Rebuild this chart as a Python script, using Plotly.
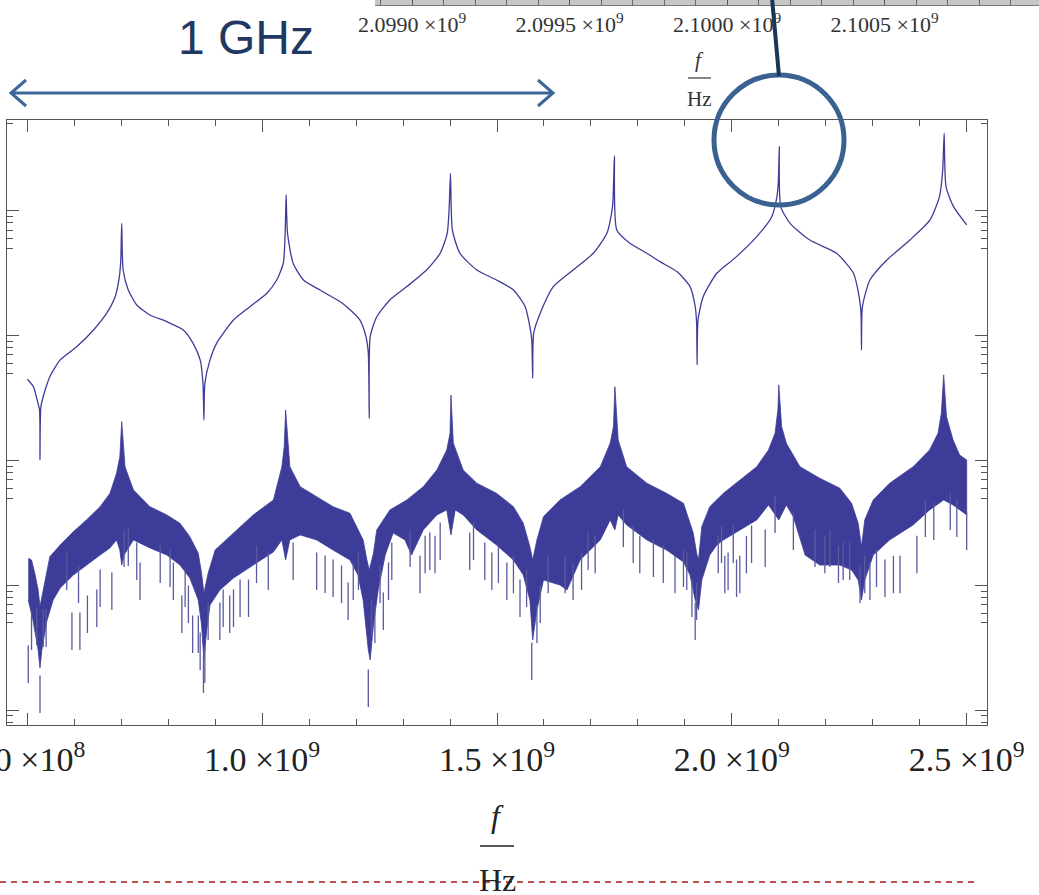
import plotly.graph_objects as go

W, H = 1039, 895

# ---------------- data (frequency in GHz, level in log10 units) ----------------
upper_f_ghz = [0.500, 0.513, 0.521, 0.526, 0.527, 0.529, 0.538, 0.548, 0.570, 0.605,
               0.641, 0.669, 0.687, 0.696, 0.699, 0.701, 0.704, 0.715, 0.733, 0.761,
               0.797, 0.832, 0.853, 0.868, 0.874, 0.876, 0.878, 0.889, 0.903, 0.939,
               0.974, 1.010, 1.031, 1.045, 1.049, 1.051, 1.054, 1.066, 1.088, 1.123,
               1.166, 1.180, 1.208, 1.221, 1.226, 1.228, 1.230, 1.244, 1.272, 1.308,
               1.350, 1.379, 1.394, 1.398, 1.401, 1.405, 1.421, 1.457, 1.499, 1.535,
               1.560, 1.570, 1.574, 1.576, 1.578, 1.592, 1.620, 1.662, 1.705, 1.734,
               1.746, 1.750, 1.755, 1.783, 1.819, 1.847, 1.883, 1.911, 1.922, 1.925,
               1.926, 1.928, 1.939, 1.968, 2.010, 2.053, 2.085, 2.096, 2.099, 2.101,
               2.104, 2.124, 2.166, 2.223, 2.259, 2.271, 2.275, 2.276, 2.278, 2.294,
               2.330, 2.379, 2.422, 2.442, 2.449, 2.452, 2.456, 2.472, 2.500]
upper_log = [-2.350, -2.409, -2.516, -2.596, -2.996, -2.569, -2.436, -2.329, -2.195, -2.089,
             -1.955, -1.821, -1.689, -1.528, -1.395, -1.101, -1.475, -1.635, -1.755, -1.835,
             -1.889, -1.955, -2.062, -2.195, -2.382, -2.676, -2.382, -2.195, -2.062, -1.875,
             -1.769, -1.661, -1.555, -1.421, -1.181, -0.874, -1.181, -1.421, -1.555, -1.635,
             -1.729, -1.769, -1.875, -2.009, -2.142, -2.662, -2.009, -1.849, -1.715, -1.608,
             -1.475, -1.341, -1.181, -0.994, -0.701, -1.155, -1.341, -1.475, -1.555, -1.635,
             -1.769, -1.929, -2.035, -2.342, -1.982, -1.821, -1.608, -1.475, -1.341, -1.181,
             -0.968, -0.562, -1.155, -1.261, -1.341, -1.408, -1.488, -1.608, -1.769, -1.902,
             -2.235, -1.875, -1.689, -1.501, -1.368, -1.208, -1.048, -0.888, -0.768, -0.488,
             -0.968, -1.101, -1.235, -1.341, -1.501, -1.689, -1.821, -2.115, -1.769, -1.555,
             -1.395, -1.235, -1.074, -0.888, -0.674, -0.380, -0.808, -0.968, -1.114]

band_top_f_ghz = [0.502, 0.509, 0.516, 0.523, 0.527, 0.534, 0.548, 0.570, 0.598, 0.626,
                  0.655, 0.676, 0.690, 0.697, 0.701, 0.708, 0.726, 0.761, 0.797, 0.825,
                  0.846, 0.864, 0.871, 0.876, 0.885, 0.900, 0.939, 0.981, 1.024, 1.042,
                  1.047, 1.050, 1.059, 1.081, 1.116, 1.151, 1.187, 1.194, 1.215, 1.223,
                  1.228, 1.237, 1.244, 1.272, 1.308, 1.343, 1.372, 1.393, 1.400, 1.402,
                  1.407, 1.428, 1.457, 1.499, 1.535, 1.556, 1.570, 1.576, 1.585, 1.599,
                  1.634, 1.677, 1.720, 1.741, 1.748, 1.751, 1.758, 1.776, 1.819, 1.861,
                  1.897, 1.904, 1.918, 1.925, 1.929, 1.936, 1.953, 1.982, 2.017, 2.053,
                  2.078, 2.092, 2.098, 2.100, 2.106, 2.116, 2.145, 2.187, 2.230, 2.255,
                  2.269, 2.276, 2.283, 2.301, 2.336, 2.386, 2.421, 2.439, 2.446, 2.451,
                  2.457, 2.471, 2.485, 2.500]
band_top_log = [-3.783, -3.797, -3.903, -4.037, -4.170, -4.037, -3.770, -3.677, -3.570, -3.476,
                -3.370, -3.263, -3.102, -2.970, -2.689, -3.050, -3.236, -3.370, -3.436, -3.503,
                -3.610, -3.743, -3.903, -4.063, -3.903, -3.716, -3.583, -3.436, -3.316, -3.050,
                -2.889, -2.596, -3.050, -3.210, -3.290, -3.370, -3.423, -3.476, -3.636, -3.797,
                -3.877, -3.743, -3.556, -3.396, -3.316, -3.210, -3.076, -2.916, -2.782, -2.476,
                -2.862, -3.076, -3.182, -3.263, -3.370, -3.503, -3.690, -3.797, -3.636, -3.450,
                -3.316, -3.210, -3.050, -2.862, -2.729, -2.409, -2.836, -3.050, -3.182, -3.263,
                -3.343, -3.423, -3.583, -3.743, -3.797, -3.530, -3.370, -3.263, -3.156, -3.050,
                -2.916, -2.782, -2.596, -2.395, -2.729, -2.862, -3.050, -3.142, -3.222, -3.343,
                -3.503, -3.690, -3.476, -3.316, -3.182, -3.050, -2.916, -2.782, -2.622, -2.315,
                -2.649, -2.836, -2.956, -2.996]

band_bot_f_ghz = [0.502, 0.512, 0.523, 0.527, 0.531, 0.541, 0.555, 0.570, 0.598, 0.626,
                  0.655, 0.676, 0.690, 0.697, 0.701, 0.706, 0.726, 0.761, 0.797, 0.825,
                  0.846, 0.864, 0.871, 0.876, 0.882, 0.889, 0.910, 0.939, 0.981, 1.024,
                  1.042, 1.050, 1.059, 1.081, 1.116, 1.151, 1.187, 1.204, 1.215, 1.226,
                  1.230, 1.237, 1.247, 1.262, 1.279, 1.304, 1.318, 1.343, 1.372, 1.393,
                  1.402, 1.411, 1.428, 1.457, 1.499, 1.535, 1.556, 1.570, 1.576, 1.585,
                  1.599, 1.634, 1.649, 1.677, 1.720, 1.741, 1.751, 1.758, 1.776, 1.819,
                  1.861, 1.897, 1.911, 1.922, 1.929, 1.936, 1.953, 1.968, 1.982, 2.017,
                  2.053, 2.078, 2.100, 2.116, 2.131, 2.156, 2.187, 2.230, 2.255, 2.269,
                  2.276, 2.283, 2.301, 2.336, 2.386, 2.421, 2.451, 2.471, 2.500]
band_bot_log = [-4.117, -4.277, -4.517, -4.661, -4.517, -4.293, -4.117, -4.021, -3.917, -3.837,
                -3.757, -3.700, -3.636, -3.717, -3.837, -3.757, -3.636, -3.700, -3.757, -3.837,
                -3.941, -4.117, -4.317, -4.597, -4.357, -4.157, -4.037, -3.941, -3.837, -3.732,
                -3.636, -3.797, -3.636, -3.596, -3.636, -3.717, -3.797, -3.917, -4.117, -4.517,
                -4.597, -4.317, -4.037, -3.757, -3.580, -3.636, -3.757, -3.556, -3.436, -3.396,
                -3.596, -3.396, -3.436, -3.556, -3.677, -3.797, -3.917, -4.117, -4.437, -4.197,
                -3.957, -3.997, -4.037, -3.797, -3.636, -3.476, -3.556, -3.436, -3.516, -3.636,
                -3.717, -3.813, -3.917, -4.117, -4.197, -3.957, -3.757, -3.677, -3.636, -3.556,
                -3.476, -3.356, -3.476, -3.356, -3.452, -3.757, -3.837, -3.837, -3.877, -3.957,
                -4.117, -3.957, -3.757, -3.636, -3.516, -3.396, -3.316, -3.356, -3.436]

spike_f_ghz = [0.502, 0.509, 0.520, 0.527, 0.534, 0.540, 0.584, 0.595, 0.609, 0.612,
               0.628, 0.648, 0.655, 0.680, 0.706, 0.715, 0.733, 0.740, 0.783, 0.804,
               0.811, 0.829, 0.836, 0.843, 0.852, 0.864, 0.868, 0.875, 0.878, 0.885,
               0.910, 0.917, 0.931, 0.939, 0.953, 0.971, 0.988, 1.013, 1.066, 1.116,
               1.134, 1.151, 1.169, 1.183, 1.194, 1.205, 1.226, 1.233, 1.240, 1.251,
               1.258, 1.269, 1.276, 1.315, 1.336, 1.347, 1.357, 1.368, 1.379, 1.442,
               1.450, 1.474, 1.489, 1.503, 1.521, 1.535, 1.549, 1.563, 1.574, 1.585,
               1.592, 1.609, 1.645, 1.662, 1.680, 1.694, 1.709, 1.769, 1.790, 1.804,
               1.833, 1.854, 1.879, 1.897, 1.904, 1.915, 1.922, 1.925, 1.971, 1.978,
               1.985, 1.992, 2.003, 2.010, 2.017, 2.031, 2.042, 2.071, 2.092, 2.131,
               2.177, 2.198, 2.209, 2.227, 2.237, 2.251, 2.273, 2.283, 2.294, 2.308,
               2.326, 2.344, 2.358, 2.394, 2.412, 2.430, 2.465, 2.479, 2.500]
spike_tip_log = [-4.781, -4.517, -4.477, -5.021, -4.493, -4.493, -4.037, -4.517, -4.141, -4.517,
                 -4.381, -4.333, -4.173, -4.197, -3.853, -3.845, -3.957, -4.117, -3.981, -4.013,
                 -4.117, -4.381, -4.173, -4.301, -4.541, -4.541, -4.677, -4.861, -4.781, -4.437,
                 -4.437, -4.333, -4.381, -4.333, -4.253, -4.253, -3.981, -4.037, -3.957, -4.037,
                 -4.061, -4.093, -4.141, -4.277, -4.117, -4.037, -4.973, -4.413, -4.461, -4.141,
                 -4.357, -4.117, -3.957, -3.853, -4.063, -3.903, -3.877, -3.903, -3.797, -3.877,
                 -3.797, -3.957, -4.037, -3.981, -4.117, -4.063, -4.253, -4.173, -4.757, -4.461,
                 -4.301, -4.063, -4.063, -4.117, -4.037, -3.877, -3.903, -3.693, -3.821, -3.903,
                 -3.933, -3.981, -4.063, -4.013, -4.037, -4.253, -4.437, -4.277, -3.903, -3.821,
                 -4.063, -4.037, -3.821, -4.093, -4.063, -3.903, -3.821, -3.853, -3.580, -3.717,
                 -3.853, -3.903, -3.853, -3.981, -3.957, -3.957, -4.141, -4.063, -4.117, -4.013,
                 -4.093, -4.063, -4.063, -3.903, -3.613, -3.636, -3.556, -3.613, -3.717]

main_tick_hz = [0.5e9, 1.0e9, 1.5e9, 2.0e9, 2.5e9]
main_tick_text = ["5.0 ×10<sup>8</sup>", "1.0 ×10<sup>9</sup>", "1.5 ×10<sup>9</sup>",
                  "2.0 ×10<sup>9</sup>", "2.5 ×10<sup>9</sup>"]
inset_tick_hz = [2.0990e9, 2.0995e9, 2.1000e9, 2.1005e9]
inset_tick_text = ["2.0990 ×10<sup>9</sup>", "2.0995 ×10<sup>9</sup>",
                   "2.1000 ×10<sup>9</sup>", "2.1005 ×10<sup>9</sup>"]
y_major = [1e-5, 1e-4, 1e-3, 1e-2, 1e-1]

GHZ = 1e9
LINE_C = "#3d3d99"

def hz(lst):
    return [v * GHZ for v in lst]

def lin(lst):
    return [10 ** v for v in lst]

fig = go.Figure()

# dense band (filled envelope)
band_x = hz(band_top_f_ghz) + hz(band_bot_f_ghz)[::-1]
band_y = lin(band_top_log) + lin(band_bot_log)[::-1]
fig.add_trace(go.Scatter(x=band_x, y=band_y, mode="lines", fill="toself",
                         fillcolor=LINE_C, line=dict(color=LINE_C, width=0.8),
                         hoverinfo="skip", showlegend=False))

# downward spikes of the dense band
sx, sy = [], []
for f, t in zip(spike_f_ghz, spike_tip_log):
    sx += [f * GHZ, f * GHZ, None]
    sy += [10 ** t, 10 ** (t + 0.3), None]
fig.add_trace(go.Scatter(x=sx, y=sy, mode="lines",
                         line=dict(color="#5a5a9e", width=1.3),
                         hoverinfo="skip", showlegend=False))

# smooth upper response
fig.add_trace(go.Scatter(x=hz(upper_f_ghz), y=lin(upper_log), mode="lines",
                         line=dict(color=LINE_C, width=1.3, shape="spline", smoothing=0.6),
                         hoverinfo="skip", showlegend=False))

# invisible trace to carry the inset axis
fig.add_trace(go.Scatter(x=[inset_tick_hz[0]], y=[0.5], xaxis="x2", yaxis="y2",
                         mode="markers", marker=dict(opacity=0),
                         hoverinfo="skip", showlegend=False))

serif = "Liberation Serif, Times New Roman, serif"
frame_c = "#555555"

minor_y = [k * 10.0 ** n for n in range(-6, 0) for k in (5, 6, 7, 8, 9)]

fig.update_layout(
    width=W, height=H,
    margin=dict(l=0, r=0, t=0, b=0, pad=0, autoexpand=False),
    paper_bgcolor="white", plot_bgcolor="white",
    showlegend=False,
    xaxis=dict(
        domain=[7.3 / W, 986.7 / W], anchor="y",
        range=[0.4574e9, 2.5426e9], automargin=False,
        tickmode="array", tickvals=main_tick_hz, ticktext=main_tick_text,
        ticks="inside", ticklen=12, tickwidth=1, tickcolor=frame_c,
        minor=dict(tickmode="linear", tick0=0.5e9, dtick=0.1e9, ticks="inside",
                   ticklen=6, tickwidth=1, tickcolor=frame_c, showgrid=False),
        showline=True, linecolor=frame_c, linewidth=1, mirror="ticks",
        showgrid=False, zeroline=False,
        tickfont=dict(family=serif, size=34, color="#222222"),
        ticklabelstandoff=4, ticklabeloverflow="allow",
    ),
    yaxis=dict(
        domain=[170 / H, 775 / H], anchor="x", automargin=False,
        type="log", range=[-5.118, -0.274],
        tickmode="array", tickvals=y_major, showticklabels=False,
        ticks="inside", ticklen=12, tickwidth=1, tickcolor=frame_c,
        minor=dict(tickmode="array", tickvals=minor_y, ticks="inside",
                   ticklen=6, tickwidth=1, tickcolor=frame_c, showgrid=False),
        showline=True, linecolor=frame_c, linewidth=1, mirror="ticks",
        showgrid=False, zeroline=False,
    ),
    xaxis2=dict(
        domain=[375 / W, 1.0], anchor="y2", automargin=False,
        range=[2.098882e9, 2.100990e9],
        tickmode="array", tickvals=inset_tick_hz, ticktext=inset_tick_text,
        ticks="inside", ticklen=5, tickwidth=1, tickcolor="#555555",
        minor=dict(tickmode="linear", tick0=2.0990e9, dtick=1e5, ticks="inside",
                   ticklen=5, tickwidth=1, tickcolor="#666666", showgrid=False),
        showline=True, linecolor="#777777", linewidth=1,
        showgrid=False, zeroline=False,
        tickfont=dict(family=serif, size=22, color="#333333"),
        ticklabelstandoff=0, ticklabeloverflow="allow",
    ),
    yaxis2=dict(domain=[1 - 5 / H, 1.0], anchor="x2", range=[0, 1], visible=False,
                automargin=False),
)

def px(x):
    return x / W

def py(y):
    return 1 - y / H

shapes = []
# inset frame strip
shapes.append(dict(type="rect", xref="x2 domain", yref="y2 domain", x0=0, x1=1, y0=0, y1=1,
                   fillcolor="#c6c6c6", line=dict(width=0), layer="below"))
# double-headed arrow
arrow_c = "#3b6897"
shapes.append(dict(type="line", xref="paper", yref="paper", x0=px(11), x1=px(553), y0=py(93), y1=py(93),
                   line=dict(color=arrow_c, width=3)))
shapes.append(dict(type="path", xref="paper", yref="paper",
                   path=f"M {px(26)},{py(80)} L {px(11)},{py(93)} L {px(26)},{py(106)}",
                   line=dict(color=arrow_c, width=3)))
shapes.append(dict(type="path", xref="paper", yref="paper",
                   path=f"M {px(538)},{py(80)} L {px(553)},{py(93)} L {px(538)},{py(106)}",
                   line=dict(color=arrow_c, width=3)))
# callout circle and connector
shapes.append(dict(type="circle", xref="paper", yref="paper",
                   x0=px(714), x1=px(844), y0=py(205), y1=py(75),
                   line=dict(color="#3a6290", width=5)))
shapes.append(dict(type="line", xref="paper", yref="paper", x0=px(772), x1=px(779), y0=py(-2), y1=py(76),
                   line=dict(color="#1c3557", width=4)))
# fraction bars of axis labels
shapes.append(dict(type="line", xref="paper", yref="paper", x0=px(480), x1=px(514), y0=py(846), y1=py(846),
                   line=dict(color="#222222", width=1.5)))
shapes.append(dict(type="line", xref="paper", yref="paper", x0=px(688), x1=px(711), y0=py(78), y1=py(78),
                   line=dict(color="#333333", width=1.2)))
# red dashed separator
shapes.append(dict(type="line", xref="paper", yref="paper", x0=px(0), x1=px(977), y0=py(882), y1=py(882),
                   line=dict(color="#c0504d", width=2, dash="6px,5px")))
fig.update_layout(shapes=shapes)

ann = []
ann.append(dict(text="1 GHz", xref="paper", yref="paper", x=px(246), y=py(37),
                showarrow=False, xanchor="center", yanchor="middle",
                font=dict(family="Liberation Sans, Arial, sans-serif", size=48, color="#1f3864")))
ann.append(dict(text="<i>f</i>", xref="paper", yref="paper", x=px(497), y=py(816),
                showarrow=False, xanchor="center", yanchor="middle",
                font=dict(family=serif, size=32, color="#222222")))
ann.append(dict(text="Hz", xref="paper", yref="paper", x=px(497), y=py(880),
                showarrow=False, xanchor="center", yanchor="middle",
                font=dict(family=serif, size=32, color="#222222")))
ann.append(dict(text="<i>f</i>", xref="paper", yref="paper", x=px(699), y=py(60),
                showarrow=False, xanchor="center", yanchor="middle",
                font=dict(family=serif, size=21, color="#333333")))
ann.append(dict(text="Hz", xref="paper", yref="paper", x=px(699), y=py(99),
                showarrow=False, xanchor="center", yanchor="middle",
                font=dict(family=serif, size=21, color="#333333")))
fig.update_layout(annotations=ann)

fig.write_html("out.html",
               config={"displayModeBar": False},
               post_script="document.body.style.margin='0';document.body.style.overflow='hidden';")
